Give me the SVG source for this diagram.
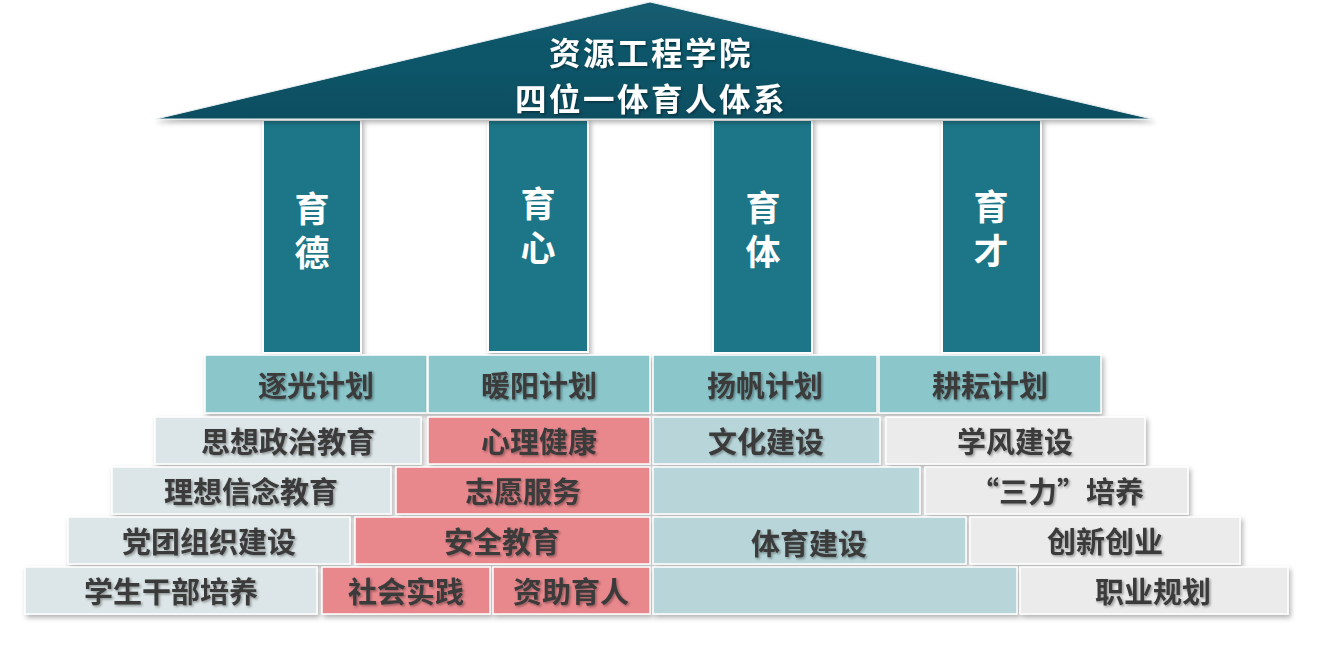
<svg xmlns="http://www.w3.org/2000/svg" width="1326" height="646" viewBox="0 0 1326 646">
<defs>
<filter id="sh" x="-10%" y="-20%" width="130%" height="160%"><feDropShadow dx="2" dy="3" stdDeviation="2.5" flood-color="#000" flood-opacity="0.3"/></filter>
<filter id="ts" x="-10%" y="-20%" width="130%" height="160%"><feDropShadow dx="1.5" dy="1.5" stdDeviation="1" flood-color="#000" flood-opacity="0.35"/></filter>
<linearGradient id="roofG" x1="0" y1="0" x2="0" y2="1"><stop offset="0" stop-color="#135c70"/><stop offset="1" stop-color="#0d4e61"/></linearGradient>
</defs>
<style>
.t{font-family:"Noto Sans CJK SC","Noto Sans",sans-serif;font-weight:700;text-anchor:middle;dominant-baseline:central}
.w{fill:#fff;font-size:31.5px;letter-spacing:2.5px;filter:url(#ts)}
.p{fill:#fff;font-size:35px;writing-mode:vertical-rl;letter-spacing:9px}
.d{fill:#3a3a3a;font-size:29px;filter:url(#ts)}
.cell{stroke:#fff;stroke-width:1.5;filter:url(#sh)}
.pillar{fill:#1c7687;stroke:#fff;stroke-width:2;filter:url(#sh)}
.plan{fill:#8bc6cb}
.gl{fill:#dce5e7}
.pk{fill:#e8888d}
.tl{fill:#b8d6da}
.gr{fill:#ebebeb}
</style>

<g id="pillars">
<g id="p-de"><rect class="pillar" x="263" y="120" width="98" height="233"/><text class="t p" x="312" y="235">育德</text></g>
<g id="p-xin"><rect class="pillar" x="488" y="120" width="100" height="232"/><text class="t p" x="538" y="230">育心</text></g>
<g id="p-ti"><rect class="pillar" x="713" y="120" width="99" height="233"/><text class="t p" x="763" y="234">育体</text></g>
<g id="p-cai"><rect class="pillar" x="942" y="120" width="99" height="233"/><text class="t p" x="991" y="233">育才</text></g>
</g>

<g id="roof">
<polygon points="650,2 1152,119 156,119" fill="url(#roofG)" stroke="#e8f0f2" stroke-width="1" filter="url(#sh)"/>
<text class="t w" x="651" y="51">资源工程学院</text>
<text class="t w" x="651" y="97">四位一体育人体系</text>
</g>

<g id="row0">
<g id="n-zhuguang"><rect class="cell plan" x="205" y="355" width="222" height="58"/><text class="t d" x="316" y="384">逐光计划</text></g>
<g id="n-nuanyang"><rect class="cell plan" x="428" y="355" width="222" height="58"/><text class="t d" x="539" y="384">暖阳计划</text></g>
<g id="n-yangfan"><rect class="cell plan" x="653" y="355" width="224" height="58"/><text class="t d" x="765" y="384">扬帆计划</text></g>
<g id="n-gengyun"><rect class="cell plan" x="879" y="355" width="222" height="58"/><text class="t d" x="990" y="384">耕耘计划</text></g>
</g>

<g id="row1">
<g id="n-sixiang"><rect class="cell gl" x="155" y="417" width="266" height="47"/><text class="t d" x="288" y="440">思想政治教育</text></g>
<g id="n-xinli"><rect class="cell pk" x="428" y="417" width="222" height="47"/><text class="t d" x="539" y="440">心理健康</text></g>
<g id="n-wenhua"><rect class="cell tl" x="653" y="417" width="227" height="47"/><text class="t d" x="766" y="440">文化建设</text></g>
<g id="n-xuefeng"><rect class="cell gr" x="886" y="417" width="259" height="47"/><text class="t d" x="1015" y="440">学风建设</text></g>
</g>

<g id="row2">
<g id="n-lixiang"><rect class="cell gl" x="112" y="467" width="279" height="47"/><text class="t d" x="251" y="490">理想信念教育</text></g>
<g id="n-zhiyuan"><rect class="cell pk" x="396" y="467" width="254" height="47"/><text class="t d" x="523" y="490">志愿服务</text></g>
<g id="n-blank1"><rect class="cell tl" x="653" y="467" width="267" height="47"/></g>
<g id="n-sanli"><rect class="cell gr" x="925" y="467" width="263" height="47"/><text class="t d" x="1057" y="490">“三力”培养</text></g>
</g>

<g id="row3">
<g id="n-dangtuan"><rect class="cell gl" x="68" y="517" width="282" height="47"/><text class="t d" x="209" y="540">党团组织建设</text></g>
<g id="n-anquan"><rect class="cell pk" x="355" y="517" width="295" height="47"/><text class="t d" x="502" y="540">安全教育</text></g>
<g id="n-tiyu"><rect class="cell tl" x="653" y="517" width="313" height="47"/><text class="t d" x="809" y="542">体育建设</text></g>
<g id="n-chuangxin"><rect class="cell gr" x="970" y="517" width="270" height="47"/><text class="t d" x="1105" y="540">创新创业</text></g>
</g>

<g id="row4">
<g id="n-xuesheng"><rect class="cell gl" x="25" y="567" width="292" height="47"/><text class="t d" x="171" y="590">学生干部培养</text></g>
<g id="n-shehui"><rect class="cell pk" x="322" y="567" width="168" height="47"/><text class="t d" x="406" y="590">社会实践</text></g>
<g id="n-zizhu"><rect class="cell pk" x="493" y="567" width="157" height="47"/><text class="t d" x="571" y="590">资助育人</text></g>
<g id="n-blank2"><rect class="cell tl" x="653" y="567" width="364" height="47"/></g>
<g id="n-zhiye"><rect class="cell gr" x="1020" y="567" width="268" height="47"/><text class="t d" x="1153" y="590">职业规划</text></g>
</g>
</svg>
